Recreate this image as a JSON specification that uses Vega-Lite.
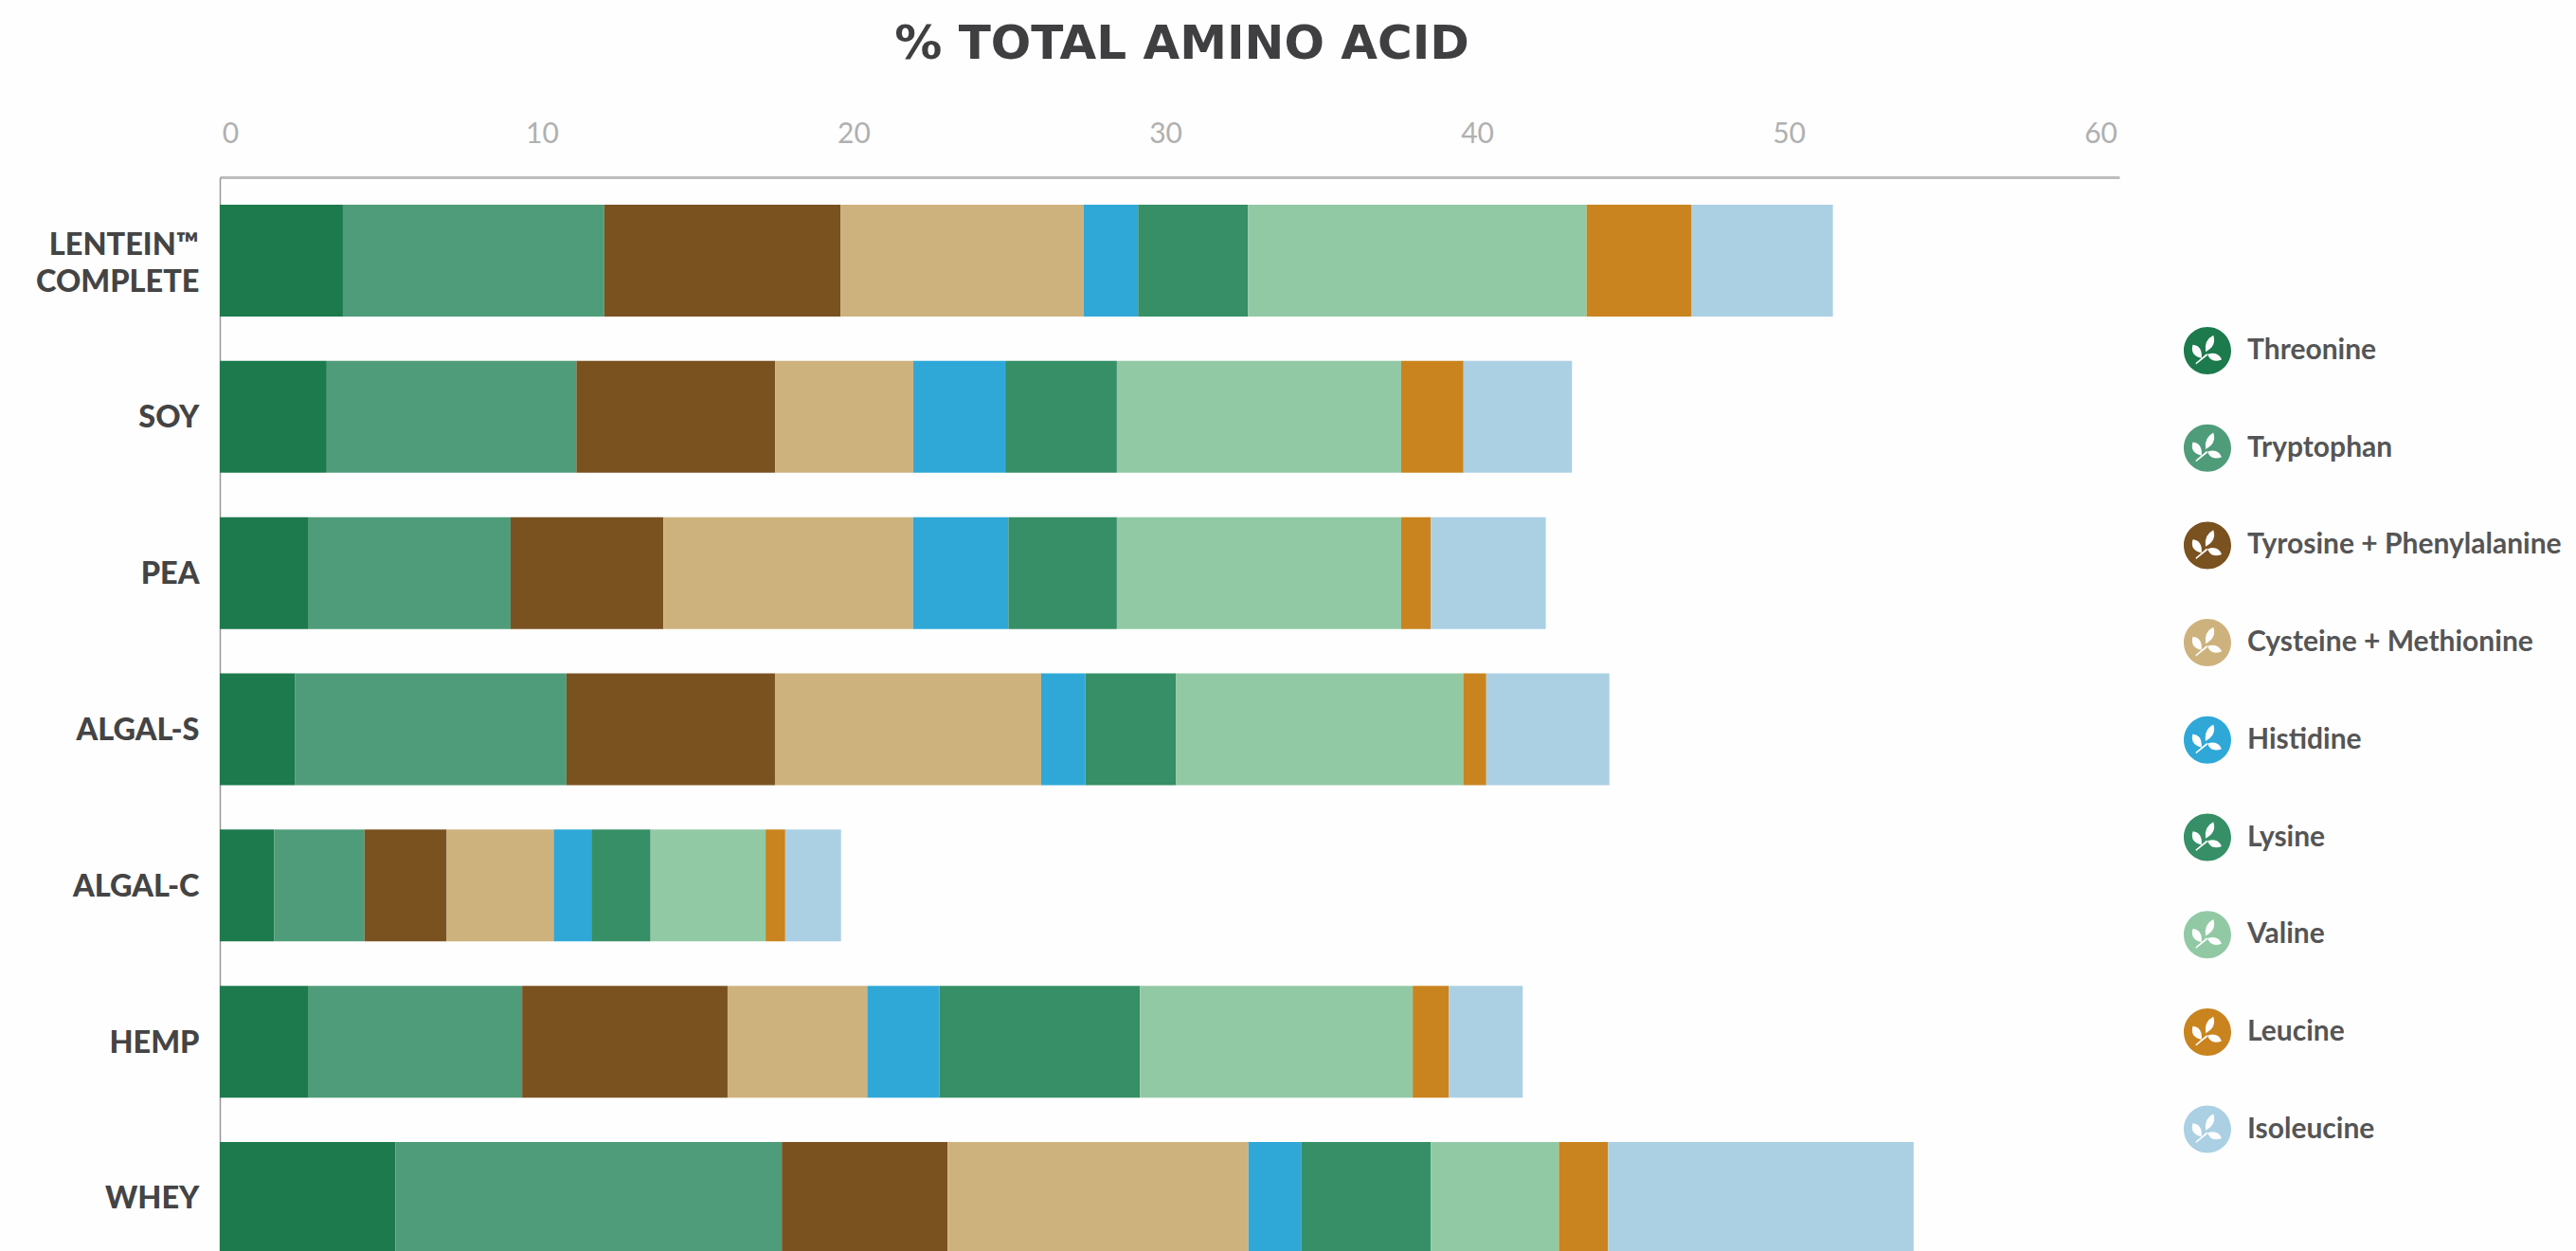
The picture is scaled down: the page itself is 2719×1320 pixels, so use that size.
{"$schema":"https://vega.github.io/schema/vega-lite/v6.json","width":2005,"height":1133,"autosize":{"type":"none"},"padding":{"left":232,"top":187,"right":482,"bottom":0},"background":"#fefefe","view":{"stroke":null},"title":{"text":"% TOTAL AMINO ACID","anchor":"middle","dx":13,"font":"DejaVu Sans","fontWeight":"bold","fontSize":50,"color":"#3f3f41","offset":54},"data":{"values":[
{"source":"LENTEIN™ COMPLETE","acid":"Threonine","rank":1,"value":3.95},{"source":"LENTEIN™ COMPLETE","acid":"Tryptophan","rank":2,"value":8.38},{"source":"LENTEIN™ COMPLETE","acid":"Tyrosine + Phenylalanine","rank":3,"value":7.59},{"source":"LENTEIN™ COMPLETE","acid":"Cysteine + Methionine","rank":4,"value":7.8},{"source":"LENTEIN™ COMPLETE","acid":"Histidine","rank":5,"value":1.74},{"source":"LENTEIN™ COMPLETE","acid":"Lysine","rank":6,"value":3.53},{"source":"LENTEIN™ COMPLETE","acid":"Valine","rank":7,"value":10.86},{"source":"LENTEIN™ COMPLETE","acid":"Leucine","rank":8,"value":3.37},{"source":"LENTEIN™ COMPLETE","acid":"Isoleucine","rank":9,"value":4.53},
{"source":"SOY","acid":"Threonine","rank":1,"value":3.43},{"source":"SOY","acid":"Tryptophan","rank":2,"value":8.01},{"source":"SOY","acid":"Tyrosine + Phenylalanine","rank":3,"value":6.38},{"source":"SOY","acid":"Cysteine + Methionine","rank":4,"value":4.43},{"source":"SOY","acid":"Histidine","rank":5,"value":2.95},{"source":"SOY","acid":"Lysine","rank":6,"value":3.58},{"source":"SOY","acid":"Valine","rank":7,"value":9.12},{"source":"SOY","acid":"Leucine","rank":8,"value":2.0},{"source":"SOY","acid":"Isoleucine","rank":9,"value":3.48},
{"source":"PEA","acid":"Threonine","rank":1,"value":2.85},{"source":"PEA","acid":"Tryptophan","rank":2,"value":6.48},{"source":"PEA","acid":"Tyrosine + Phenylalanine","rank":3,"value":4.9},{"source":"PEA","acid":"Cysteine + Methionine","rank":4,"value":8.01},{"source":"PEA","acid":"Histidine","rank":5,"value":3.06},{"source":"PEA","acid":"Lysine","rank":6,"value":3.48},{"source":"PEA","acid":"Valine","rank":7,"value":9.12},{"source":"PEA","acid":"Leucine","rank":8,"value":0.95},{"source":"PEA","acid":"Isoleucine","rank":9,"value":3.69},
{"source":"ALGAL-S","acid":"Threonine","rank":1,"value":2.42},{"source":"ALGAL-S","acid":"Tryptophan","rank":2,"value":8.7},{"source":"ALGAL-S","acid":"Tyrosine + Phenylalanine","rank":3,"value":6.69},{"source":"ALGAL-S","acid":"Cysteine + Methionine","rank":4,"value":8.54},{"source":"ALGAL-S","acid":"Histidine","rank":5,"value":1.42},{"source":"ALGAL-S","acid":"Lysine","rank":6,"value":2.9},{"source":"ALGAL-S","acid":"Valine","rank":7,"value":9.22},{"source":"ALGAL-S","acid":"Leucine","rank":8,"value":0.74},{"source":"ALGAL-S","acid":"Isoleucine","rank":9,"value":3.95},
{"source":"ALGAL-C","acid":"Threonine","rank":1,"value":1.74},{"source":"ALGAL-C","acid":"Tryptophan","rank":2,"value":2.9},{"source":"ALGAL-C","acid":"Tyrosine + Phenylalanine","rank":3,"value":2.64},{"source":"ALGAL-C","acid":"Cysteine + Methionine","rank":4,"value":3.43},{"source":"ALGAL-C","acid":"Histidine","rank":5,"value":1.21},{"source":"ALGAL-C","acid":"Lysine","rank":6,"value":1.9},{"source":"ALGAL-C","acid":"Valine","rank":7,"value":3.69},{"source":"ALGAL-C","acid":"Leucine","rank":8,"value":0.63},{"source":"ALGAL-C","acid":"Isoleucine","rank":9,"value":1.79},
{"source":"HEMP","acid":"Threonine","rank":1,"value":2.85},{"source":"HEMP","acid":"Tryptophan","rank":2,"value":6.85},{"source":"HEMP","acid":"Tyrosine + Phenylalanine","rank":3,"value":6.59},{"source":"HEMP","acid":"Cysteine + Methionine","rank":4,"value":4.48},{"source":"HEMP","acid":"Histidine","rank":5,"value":2.32},{"source":"HEMP","acid":"Lysine","rank":6,"value":6.43},{"source":"HEMP","acid":"Valine","rank":7,"value":8.75},{"source":"HEMP","acid":"Leucine","rank":8,"value":1.16},{"source":"HEMP","acid":"Isoleucine","rank":9,"value":2.37},
{"source":"WHEY","acid":"Threonine","rank":1,"value":5.64},{"source":"WHEY","acid":"Tryptophan","rank":2,"value":12.39},{"source":"WHEY","acid":"Tyrosine + Phenylalanine","rank":3,"value":5.32},{"source":"WHEY","acid":"Cysteine + Methionine","rank":4,"value":9.65},{"source":"WHEY","acid":"Histidine","rank":5,"value":1.69},{"source":"WHEY","acid":"Lysine","rank":6,"value":4.16},{"source":"WHEY","acid":"Valine","rank":7,"value":4.11},{"source":"WHEY","acid":"Leucine","rank":8,"value":1.58},{"source":"WHEY","acid":"Isoleucine","rank":9,"value":9.8}
]},"mark":{"type":"bar"},"encoding":{
"y":{"field":"source","type":"nominal","sort":null,"scale":{"domain":["LENTEIN™ COMPLETE","SOY","PEA","ALGAL-S","ALGAL-C","HEMP","WHEY"],"range":[0,1165],"paddingInner":0.284,"paddingOuter":0.176},"axis":{"title":null,"ticks":false,"grid":false,"domainColor":"#999999","domainWidth":1.5,"labelFont":"Lato","labelFontWeight":900,"labelFontSize":32.5,"labelColor":"#444444","labelPadding":22,"labelLineHeight":39,"labelOffset":{"condition":{"test":"datum.label == 'LENTEIN™ COMPLETE'","value":-16},"value":1.5},"labelExpr":"datum.label == 'LENTEIN™ COMPLETE' ? ['LENTEIN™','COMPLETE'] : datum.label"}},
"x":{"field":"value","type":"quantitative","stack":"zero","scale":{"domain":[0,60.94],"nice":false},"axis":{"orient":"top","title":null,"values":[0,10,20,30,40,50,60],"ticks":false,"grid":false,"domainColor":"#bdbdbd","domainWidth":3,"labelFont":"Lato","labelFontSize":30,"labelColor":"#b0b0b0","labelPadding":37,"labelOffset":11,"labelBaseline":"alphabetic","labelFlush":false,"labelOverlap":false}},
"order":{"field":"rank","type":"ordinal"},
"color":{"field":"acid","type":"nominal","scale":{"domain":["Threonine","Tryptophan","Tyrosine + Phenylalanine","Cysteine + Methionine","Histidine","Lysine","Valine","Leucine","Isoleucine"],"range":["#1c7a4d","#4f9c7a","#7a5220","#ceb27e","#2fa8d8","#368f66","#92c9a5","#c9841f","#abd0e3"]},"legend":{"title":null,"orient":"none","legendX":2073,"legendY":158,"symbolType":"M-1,0 A1,1 0 1,1 1,0 A1,1 0 1,1 -1,0 Z M-0.08,0.05 Q0.4,-0.2 0.25,-0.65 Q-0.15,-0.45 -0.08,0.05 Z M-0.25,0.32 Q-0.2,-0.2 -0.62,-0.25 Q-0.75,0.2 -0.25,0.32 Z M0,0.15 Q0.15,0.55 0.6,0.38 Q0.45,0 0,0.15 Z M-0.5,0.52 L-0.48,0.58 L0,0.2 L-0.03,0.12 Z","symbolSize":2500,"symbolOpacity":1,"symbolStrokeWidth":0,"labelFont":"Lato","labelFontSize":30,"labelColor":"#555555","labelFontWeight":"bold","labelLimit":500,"labelOffset":17,"rowPadding":52.7}}
}}
